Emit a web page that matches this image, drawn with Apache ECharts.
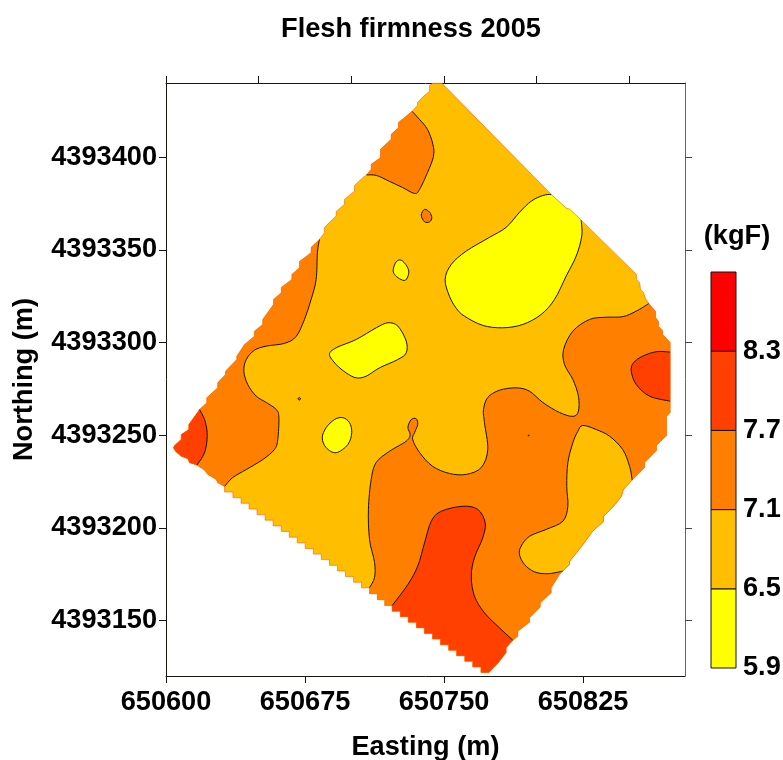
<!DOCTYPE html>
<html><head><meta charset="utf-8">
<style>html,body{margin:0;padding:0;background:#fff}#c{width:783px;height:760px}</style>
<script src="https://cdn.jsdelivr.net/npm/echarts@6/dist/echarts.min.js"></script>
</head><body><div id="c"></div>
<script>
// Map frame, metres
const originE = 650600, originN = 4393120, extentE = 280, extentN = 320;
const eastingLabels = [650600, 650675, 650750, 650825];
const eastingTopTicks = [650600, 650650, 650700, 650750, 650800, 650850];
const northingLabels = [4393150, 4393200, 4393250, 4393300, 4393350, 4393400];

// Colour classes (kgF)
const classBreaks = [5.9, 6.5, 7.1, 7.7, 8.3, 8.9];
const classLabels = [5.9, 6.5, 7.1, 7.7, 8.3];
const classColors = ['#FFFF00', '#FFBF00', '#FF8000', '#FF4000', '#FF0000'];

// Field edge, arcs in metres east / north of the frame corner, clockwise
const edgeTop = [[132.8,304.7],[135.7,307.9],[135.7,309.5],[138.9,312.8],[142.2,315.5],[142.2,318.7],[143.8,319.8],[148.9,319.8],[207.8,259.9]];
const edgeNotch = [[207.8,259.9],[216.1,252.3],[217.7,252.0],[224.0,246.0]];
const edgeNE = [[224.0,246.0],[253.8,216.7],[253.8,214.0],[255.5,212.4],[256.0,208.6],[257.6,207.0],[258.7,203.7],[260.5,201.0]];
const edgeE1 = [[260.5,201.0],[264.1,196.7],[264.1,193.5],[265.7,191.3],[265.7,188.6],[267.9,186.5],[267.9,184.3],[270.0,182.1],[272.0,180.0],[272.0,174.8]];
const edgeE2 = [[272.0,174.8],[272.0,148.3]];
const edgeE3 = [[272.0,148.3],[272.0,142.2],[270.0,140.1],[270.0,129.8],[264.6,124.4],[264.6,121.7],[258.2,115.2],[258.2,112.5],[251.5,105.7]];
const edgeSE1 = [[251.5,105.7],[246.8,100.7],[245.7,96.9],[241.4,91.5],[236.0,86.1],[236.0,83.4],[230.1,78.0],[224.2,69.9],[217.7,61.8],[217.7,60.2],[214.1,56.6]];
const edgeSE2 = [[214.1,56.6],[212.3,54.8],[207.8,47.6],[207.8,44.9],[201.9,39.5],[201.9,37.3],[196.1,31.4],[196.1,29.0],[189.8,24.2],[189.8,21.5],[187.1,19.3]];
const edgeS1 = [[187.1,19.3],[183.5,15.2],[183.5,12.7],[179.4,7.3],[174.2,1.9],[169.9,1.9],[169.9,4.9],[165.5,4.9],[165.5,7.9],[161.2,7.9],[161.2,10.9],[156.8,10.9],[156.8,13.9],[152.5,13.9],[152.5,16.9],[148.1,16.9],[148.1,19.9],[143.8,19.9],[143.8,23.0],[139.4,23.0],[139.4,26.0],[135.1,26.0],[135.1,29.0],[130.7,29.0],[130.7,32.0],[126.4,32.0],[126.4,35.0],[122.0,35.0],[122.0,38.0]];
const edgeSW1 = [[122.0,38.0],[118.0,38.0],[118.0,41.2],[114.0,41.2],[114.0,44.4],[109.8,44.4],[109.8,47.6]];
const edgeSW2 = [[109.8,47.6],[105.5,47.6],[105.5,50.6],[101.2,50.6],[101.2,53.7],[96.8,53.7],[96.8,56.7],[92.5,56.7],[92.5,59.7],[88.2,59.7],[88.2,62.8],[83.8,62.8],[83.8,65.8],[79.5,65.8],[79.5,68.8],[75.1,68.8],[75.1,71.9],[70.8,71.9],[70.8,74.9],[66.5,74.9],[66.5,78.0],[62.2,78.0],[62.2,81.0],[57.8,81.0],[57.8,84.1],[53.5,84.1],[53.5,87.1],[49.1,87.1],[49.1,90.1],[44.8,90.1],[44.8,93.2],[40.5,93.2],[40.5,96.2],[36.1,96.2],[36.1,99.3],[31.6,99.3],[31.6,102.3]];
const edgeSW3 = [[31.6,102.3],[27.9,104.3],[27.1,106.1],[22.6,108.7],[20.8,111.1],[16.6,113.8]];
const edgeW = [[16.6,113.8],[12.7,115.1],[11.8,117.2],[8.2,118.6],[5.1,121.3],[4.0,123.2],[4.6,124.4],[8.2,127.6],[8.2,130.3],[12.3,133.0],[12.3,135.7],[18.1,143.8]];
const edgeNW1 = [[18.1,143.8],[22.0,147.4],[22.0,150.1],[27.9,155.5],[27.9,158.2],[32.1,162.7],[32.1,164.5],[38.2,170.8],[38.2,172.6],[42.4,178.9],[47.7,183.4],[47.7,186.1],[52.2,189.7],[52.2,192.4],[58.0,200.5],[58.0,203.2],[62.2,206.8],[62.2,209.7],[67.9,214.0],[67.9,216.7],[72.0,220.3],[72.0,223.7],[78.3,228.4],[78.3,231.3],[82.8,235.6]];
const edgeNW2 = [[82.8,235.6],[85.5,239.2],[85.5,242.1],[91.8,248.2],[91.8,250.7],[96.3,254.5],[96.3,257.2],[101.7,261.6],[101.7,264.7],[106.2,268.9],[108.2,270.4]];
const edgeNW3 = [[108.2,270.4],[110.7,273.4],[110.7,276.1],[115.7,279.7],[115.7,284.2],[121.5,289.6],[121.5,292.3],[125.4,295.9],[125.4,298.7],[132.8,304.7]];

// Contour lines, same units
const isoNorth = [[132.8,304.7],[136.8,300.3],[141.1,294.9],[144.0,286.9],[144.3,280.4],[141.1,271.7],[136.8,262.6],[134.1,260.4],[127.6,263.6],[120.6,266.9],[113.6,270.1],[108.2,270.4]];
const isoWest = [[82.8,235.6],[81.7,228.6],[81.0,214.0],[78.3,203.2],[74.7,192.4],[70.2,183.2],[63.9,179.5],[54.1,178.0],[47.7,175.8],[43.3,170.8],[42.0,164.5],[44.1,157.3],[48.7,151.0],[54.1,147.6],[59.5,143.8],[60.9,139.5],[60.3,127.6],[58.5,122.2],[52.2,116.8],[43.3,111.4],[36.0,107.1],[31.6,102.3]];
const isoWestTip = [[18.1,143.8],[20.8,138.4],[22.2,131.3],[21.7,124.0],[19.9,118.6],[16.6,113.8]];
const isoSouth = [[109.8,47.6],[112.5,53.2],[112.5,61.3],[109.8,73.7],[109.2,89.9],[110.7,106.1],[113.4,115.2],[120.6,121.3],[129.6,126.7],[131.7,130.3],[130.5,134.1],[132.3,138.4],[135.0,138.8],[135.8,135.7],[134.1,131.3],[133.1,127.6],[136.8,120.6],[143.8,113.2],[152.9,109.3],[162.0,108.8],[170.1,112.5],[173.6,122.2],[171.8,136.8],[171.3,143.8],[173.6,150.3],[179.9,154.2],[188.9,155.5],[196.1,153.7],[203.3,147.6],[212.3,142.2],[219.5,140.1],[222.5,142.9],[222.5,151.0],[219.5,160.0],[215.0,168.1],[214.5,176.2],[219.5,186.1],[228.5,192.4],[237.5,193.6],[246.4,193.9],[253.7,196.9],[260.5,201.0]];
const isoEast = [[272.0,174.8],[264.5,175.0],[257.2,172.6],[252.2,169.0],[251.0,164.5],[253.7,157.3],[260.9,151.0],[272.0,148.3]];
const isoSouthEast = [[214.1,56.6],[206.0,55.2],[198.8,56.2],[193.4,60.2],[190.7,65.6],[191.6,70.1],[196.1,75.4],[205.1,79.1],[214.1,83.5],[216.8,91.6],[216.2,102.4],[216.8,115.1],[219.5,125.9],[222.2,132.1],[224.9,135.2],[232.1,133.0],[239.3,129.4],[246.4,122.2],[250.1,113.2],[251.5,105.7]];
const isoSouthPeak = [[122.0,38.0],[130.5,49.4],[135.8,59.3],[139.5,71.9],[143.1,83.5],[148.5,88.9],[160.1,91.6],[168.2,89.9],[172.2,82.7],[170.9,74.6],[166.4,63.8],[164.7,53.9],[166.4,43.1],[171.8,34.1],[179.9,26.0],[187.1,19.3]];
const isoLowNE = [[224.0,246.0],[224.3,237.4],[221.3,226.6],[215.9,215.8],[209.6,203.2],[202.4,195.1],[192.5,189.7],[181.7,187.9],[170.9,189.2],[161.0,194.2],[156.7,198.3],[152.9,205.0],[150.6,214.0],[153.9,222.1],[162.0,229.3],[174.5,236.7],[183.5,242.1],[190.7,250.2],[197.0,256.2],[203.3,259.3],[207.8,259.9]];
const isoLowCentre = [[88.2,173.5],[91.8,177.1],[102.6,181.6],[113.4,187.9],[119.7,190.6],[125.1,188.8],[129.6,180.7],[129.6,174.4],[125.1,170.8],[115.2,166.3],[108.0,161.8],[102.6,160.9],[97.2,163.6],[91.8,168.1]];
const isoLowWest = [[84.3,128.6],[86.4,134.0],[90.9,138.4],[95.4,139.4],[99.0,136.7],[100.2,131.3],[98.1,124.9],[91.8,120.5],[86.4,123.2]];
const isoLowSmall = [[122.6,219.4],[124.2,223.5],[126.9,224.4],[129.9,221.2],[131.0,217.6],[129.2,213.6],[126.0,214.4],[123.3,216.7]];
const isoHighSmall = [[137.7,248.7],[139.5,251.8],[142.2,250.3],[143.4,247.3],[142.2,245.1],[139.5,245.1]];
const isoSpotA = [[71.2,149.6],[71.9,150.3],[72.6,149.6],[71.9,148.9]];
const isoSpotB = [[195.4,129.8],[195.7,130.1],[196.0,129.8],[195.7,129.5]];

const fieldEdge = [].concat(edgeTop, edgeNotch, edgeNE, edgeE1, edgeE2, edgeE3, edgeSE1, edgeSE2, edgeS1, edgeSW1, edgeSW2, edgeSW3, edgeW, edgeNW1, edgeNW2, edgeNW3);

// Painted in order: each band is a contour plus the stretch of field edge that closes it
const bands = [
  {color: 1, edge: fieldEdge},
  {color: 2, line: isoNorth, edge: edgeNW3},
  {color: 2, line: isoWest, edge: [].concat(edgeSW3, edgeW, edgeNW1)},
  {color: 3, line: isoWestTip, edge: edgeW},
  {color: 2, line: isoSouth, edge: [].concat(edgeE1, edgeE2, edgeE3, edgeSE1, edgeSE2, edgeS1, edgeSW1)},
  {color: 3, line: isoEast, edge: []},
  {color: 1, line: isoSouthEast, edge: edgeSE1},
  {color: 3, line: isoSouthPeak, edge: edgeS1},
  {color: 0, line: isoLowNE, edge: edgeNotch},
  {color: 0, loop: isoLowCentre},
  {color: 0, loop: isoLowWest},
  {color: 0, loop: isoLowSmall},
  {color: 2, loop: isoHighSmall},
  {color: 2, loop: isoSpotA},
  {color: 2, loop: isoSpotB},
  {outline: fieldEdge}
];

function spline(p, closed) {
  const n = p.length, at = i => closed ? p[(i + n) % n] : p[Math.max(0, Math.min(n - 1, i))];
  let d = 'M' + p[0][0] + ' ' + p[0][1];
  const segs = closed ? n : n - 1;
  for (let i = 0; i < segs; i++) {
    const a = at(i - 1), b = at(i), c = at(i + 1), e = at(i + 2);
    d += 'C' + (b[0] + (c[0] - a[0]) / 6) + ' ' + (b[1] + (c[1] - a[1]) / 6) + ' ' +
         (c[0] - (e[0] - b[0]) / 6) + ' ' + (c[1] - (e[1] - b[1]) / 6) + ' ' + c[0] + ' ' + c[1];
  }
  return d;
}
const poly = p => p.map((q, i) => (i ? 'L' : 'M') + q[0] + ' ' + q[1]).join('');

function renderBand(params, api) {
  const b = bands[params.dataIndex];
  const px = a => a.map(q => api.coord([originE + q[0], originN + q[1]]));
  const kids = [];
  const add = (d, style) => kids.push({type: 'path', shape: {pathData: d}, style});
  if (b.outline) {
    add(poly(px(b.outline)) + 'Z', {fill: 'none', stroke: '#FF5A00', lineWidth: 0.6});
  } else if (b.loop) {
    add(spline(px(b.loop), true) + 'Z', {fill: classColors[b.color], stroke: '#111', lineWidth: 1});
  } else if (b.line) {
    const c = px(b.line);
    add(spline(c, false) + poly(px(b.edge)).replace('M', 'L') + 'Z', {fill: classColors[b.color], stroke: 'none'});
    add(spline(c, false), {fill: 'none', stroke: '#111', lineWidth: 1});
  } else {
    add(poly(px(b.edge)) + 'Z', {fill: classColors[b.color], stroke: 'none'});
  }
  return {type: 'group', children: kids};
}

function renderKey(params, api) {
  const i = params.dataIndex;
  const lo = api.coord([0, classBreaks[i]]), hi = api.coord([1, classBreaks[i + 1]]);
  return {type: 'rect', shape: {x: lo[0], y: hi[1], width: hi[0] - lo[0], height: lo[1] - hi[1]},
    style: {fill: classColors[i], stroke: '#111', lineWidth: 1}};
}

const font = {fontFamily: '"Liberation Sans", Arial, sans-serif', fontWeight: 'bold', fontSize: 27.2, color: '#000'};
const line = {lineStyle: {color: '#1a1410', width: 1}};
const numeric = v => String(v);

const chart = echarts.init(document.getElementById('c'), null, {renderer: 'canvas'});
chart.setOption({
  animation: false,
  backgroundColor: '#fff',
  title: [
    {text: 'Flesh firmness 2005', left: 406, top: 11, textAlign: 'center', textStyle: font},
    {text: '(kgF)', left: 732, top: 218, textAlign: 'center', textStyle: font}
  ],
  grid: [
    {left: 166, top: 83, width: 519, height: 593, containLabel: false, outerBoundsMode: 'none'},
    {left: 711, top: 272, width: 25, height: 396, containLabel: false, outerBoundsMode: 'none'}
  ],
  xAxis: [
    {gridIndex: 0, type: 'value', position: 'bottom', min: originE, max: originE + extentE,
     name: 'Easting (m)', nameLocation: 'middle', nameGap: 58, nameTextStyle: font,
     axisLine: {show: true, onZero: false, ...line},
     axisTick: {show: true, length: 7, customValues: eastingLabels, ...line},
     axisLabel: {show: true, customValues: eastingLabels, formatter: numeric, margin: 13, ...font, hideOverlap: false, showMinLabel: true},
     splitLine: {show: false}},
    {gridIndex: 0, type: 'value', position: 'top', min: originE, max: originE + extentE,
     axisLine: {show: true, onZero: false, ...line},
     axisTick: {show: true, length: 7, customValues: eastingTopTicks, ...line},
     axisLabel: {show: false}, splitLine: {show: false}},
    {gridIndex: 1, type: 'value', min: 0, max: 1, show: false}
  ],
  yAxis: [
    {gridIndex: 0, type: 'value', position: 'left', min: originN, max: originN + extentN,
     name: 'Northing (m)', nameLocation: 'middle', nameRotate: 90, nameGap: 128, nameTextStyle: font,
     axisLine: {show: true, onZero: false, ...line},
     axisTick: {show: true, length: 7, customValues: northingLabels, ...line},
     axisLabel: {show: true, customValues: northingLabels, formatter: numeric, margin: 9, ...font},
     splitLine: {show: false}},
    {gridIndex: 0, type: 'value', position: 'right', min: originN, max: originN + extentN,
     axisLine: {show: true, onZero: false, lineStyle: {color: '#666', width: 1}},
     axisTick: {show: true, length: 7, customValues: northingLabels, lineStyle: {color: '#444', width: 1}},
     axisLabel: {show: false}, splitLine: {show: false}},
    {gridIndex: 1, type: 'value', position: 'right', min: classBreaks[0], max: classBreaks[5],
     axisLine: {show: false}, axisTick: {show: false},
     axisLabel: {show: true, customValues: classLabels, formatter: v => v.toFixed(1), margin: 7, ...font},
     splitLine: {show: false}}
  ],
  series: [
    {type: 'custom', xAxisIndex: 0, yAxisIndex: 0, silent: true, clip: false, renderItem: renderBand,
     data: bands.map((b, i) => [originE + 100, originN + 100, i]), encode: {x: 0, y: 1}},
    {type: 'custom', xAxisIndex: 2, yAxisIndex: 2, silent: true, clip: false, renderItem: renderKey,
     data: classColors.map((c, i) => [0, classBreaks[i], i]), encode: {x: 0, y: 1}}
  ]
});
</script></body></html>
